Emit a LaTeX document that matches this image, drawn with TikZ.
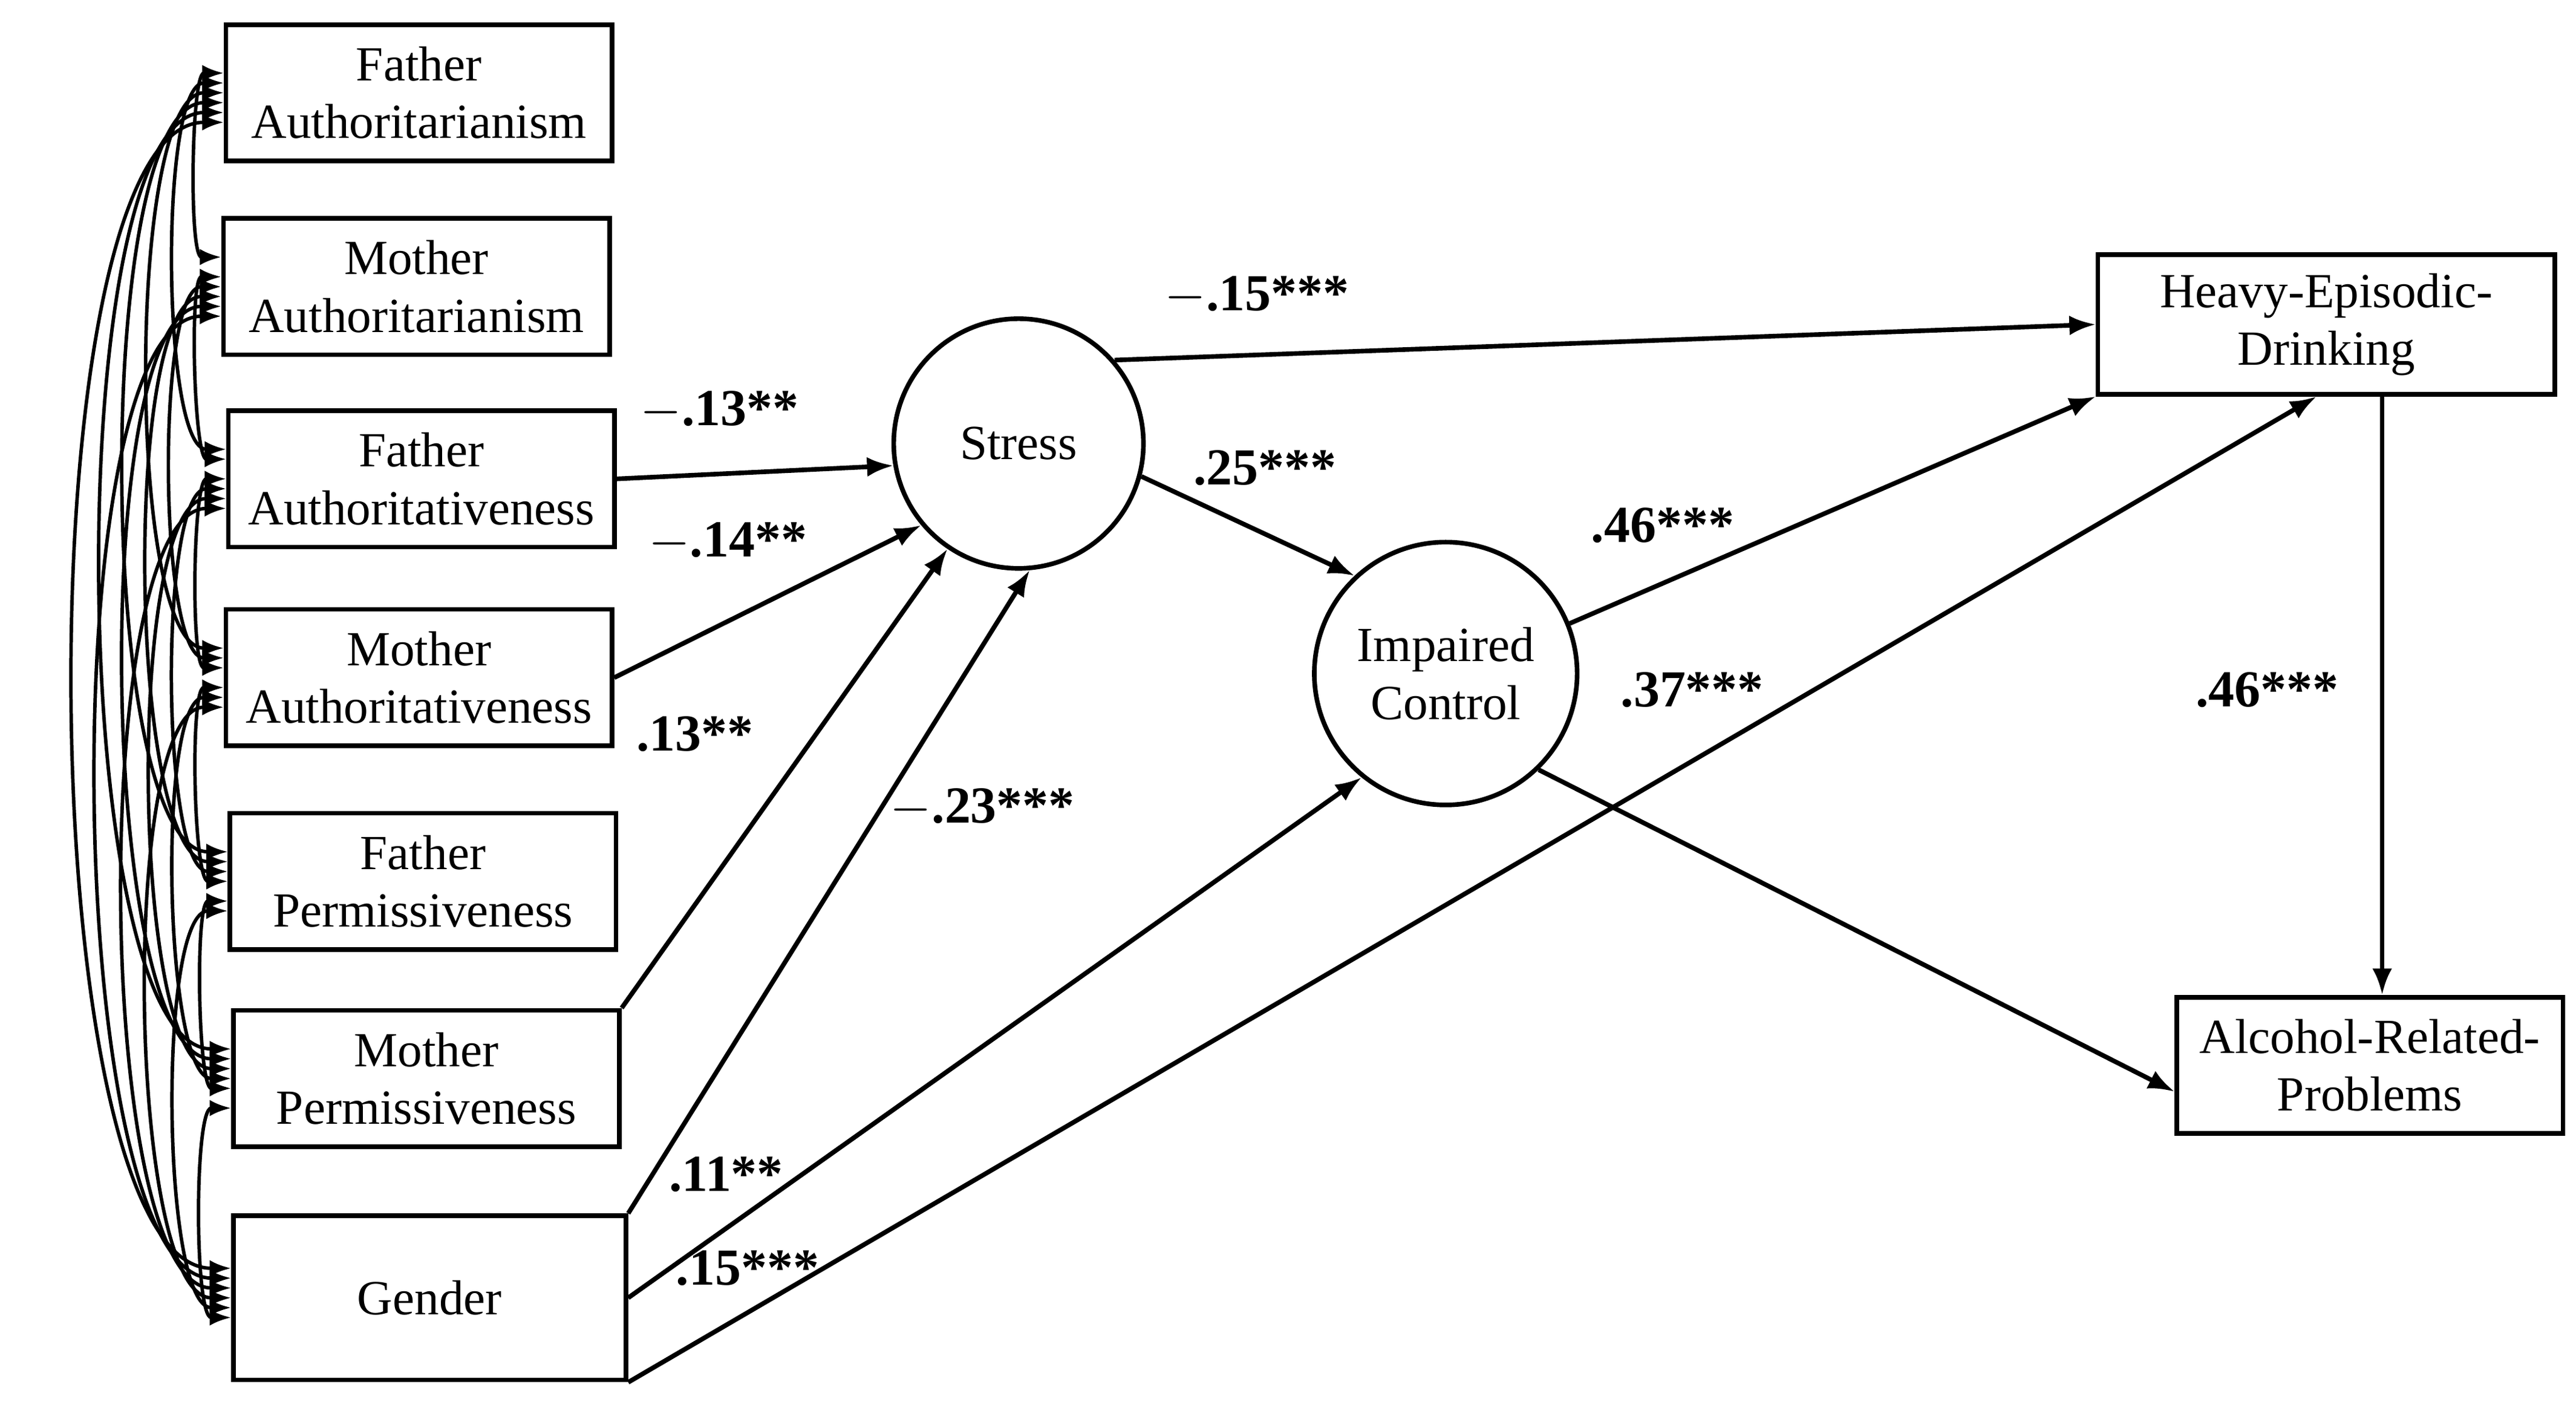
\documentclass[tikz,border=0pt]{standalone}
\usepackage{fontspec}
\setmainfont{Liberation Serif}
\usetikzlibrary{arrows.meta,positioning,calc}
\begin{document}
\begin{tikzpicture}[font=\fontsize{8.5}{10}\selectfont]
    % Define styles
    \tikzstyle{var}=[draw,thick,minimum width=2.35cm,minimum height=0.83cm,align=center,inner sep=1pt]
    \tikzstyle{latent}=[circle,draw,thick,minimum size=1.52cm,align=center]
    \tikzstyle{arr}=[-{Latex[length=1.6mm,width=1.2mm]},thick]
    \tikzstyle{cov}=[{Latex[length=1.3mm,width=1mm]}-{Latex[length=1.3mm,width=1mm]},semithick]
    \tikzstyle{coef}=[font=\fontsize{9}{10}\selectfont\bfseries]
    \useasboundingbox (0,0) rectangle (15.68,8.55);

    % Parenting and gender
    \node[var] (p1) at (2.55,7.985) {Father\\Authoritarianism};
    \node[var] (p2) at (2.535,6.805) {Mother\\Authoritarianism};
    \node[var] (p3) at (2.565,5.635) {Father\\Authoritativeness};
    \node[var] (p4) at (2.55,4.425) {Mother\\Authoritativeness};
    \node[var] (p5) at (2.575,3.185) {Father\\Permissiveness};
    \node[var] (p6) at (2.595,1.985) {Mother\\Permissiveness};
    \node[var,minimum width=2.39cm,minimum height=1cm] (p7) at (2.615,0.65) {Gender};

    % Mediators and outcomes
    \node[latent] (st) at (6.2,5.85) {Stress};
    \node[latent,minimum size=1.6cm] (ic) at (8.8,4.45) {Impaired\\Control};
    \node[var,minimum width=2.78cm,minimum height=0.85cm] (hed) at (14.16,6.575) {Heavy-Episodic-\\Drinking};
    \node[var] (arp) at (14.425,2.065) {Alcohol-Related-\\Problems};

    % Covariances
    \foreach \i in {1,...,7} {
        \foreach \j in {1,...,7} {
            \ifnum\i<\j
                \draw[cov] ([yshift={(4-\j)*0.6mm}]p\i.west) to[out=180,in=180,looseness=0.45] ([yshift={(4-\i)*0.6mm}]p\j.west);
            \fi
        }
    }

    % Paths
    \draw[arr] (p3.east) -- (st.190);
    \draw[arr] (p4.east) -- (st.220);
    \draw[arr] (p6.north east) -- (st.236);
    \draw[arr] (p7.north east) -- (st.275);
    \draw[arr] (p7.east) -- (ic.231);
    \draw[arr] (p7.south east) -- ([xshift=-0.6mm]hed.south);
    \draw[arr] (st.41) -- (hed.west);
    \draw[arr] (st.-15) -- (ic.133);
    \draw[arr] (ic.22) -- (hed.south west);
    \draw[arr] (ic.-46) -- ([yshift=-1.6mm]arp.west);
    \draw[arr] ([xshift=3.4mm]hed.south) -- ([xshift=3.4mm]hed.south |- arp.north);

    % Coefficients
    \node[coef] at (4.38,6.05) {$-$.13**};
    \node[coef] at (4.43,5.25) {$-$.14**};
    \node[coef] at (4.23,4.08) {.13**};
    \node[coef] at (5.98,3.63) {$-$.23***};
    \node[coef] at (4.42,1.4) {.11**};
    \node[coef] at (4.55,0.83) {.15***};
    \node[coef] at (7.65,6.75) {$-$.15***};
    \node[coef] at (7.7,5.7) {.25***};
    \node[coef] at (10.12,5.35) {.46***};
    \node[coef] at (10.3,4.35) {.37***};
    \node[coef] at (13.8,4.35) {.46***};
\end{tikzpicture}
\end{document}
